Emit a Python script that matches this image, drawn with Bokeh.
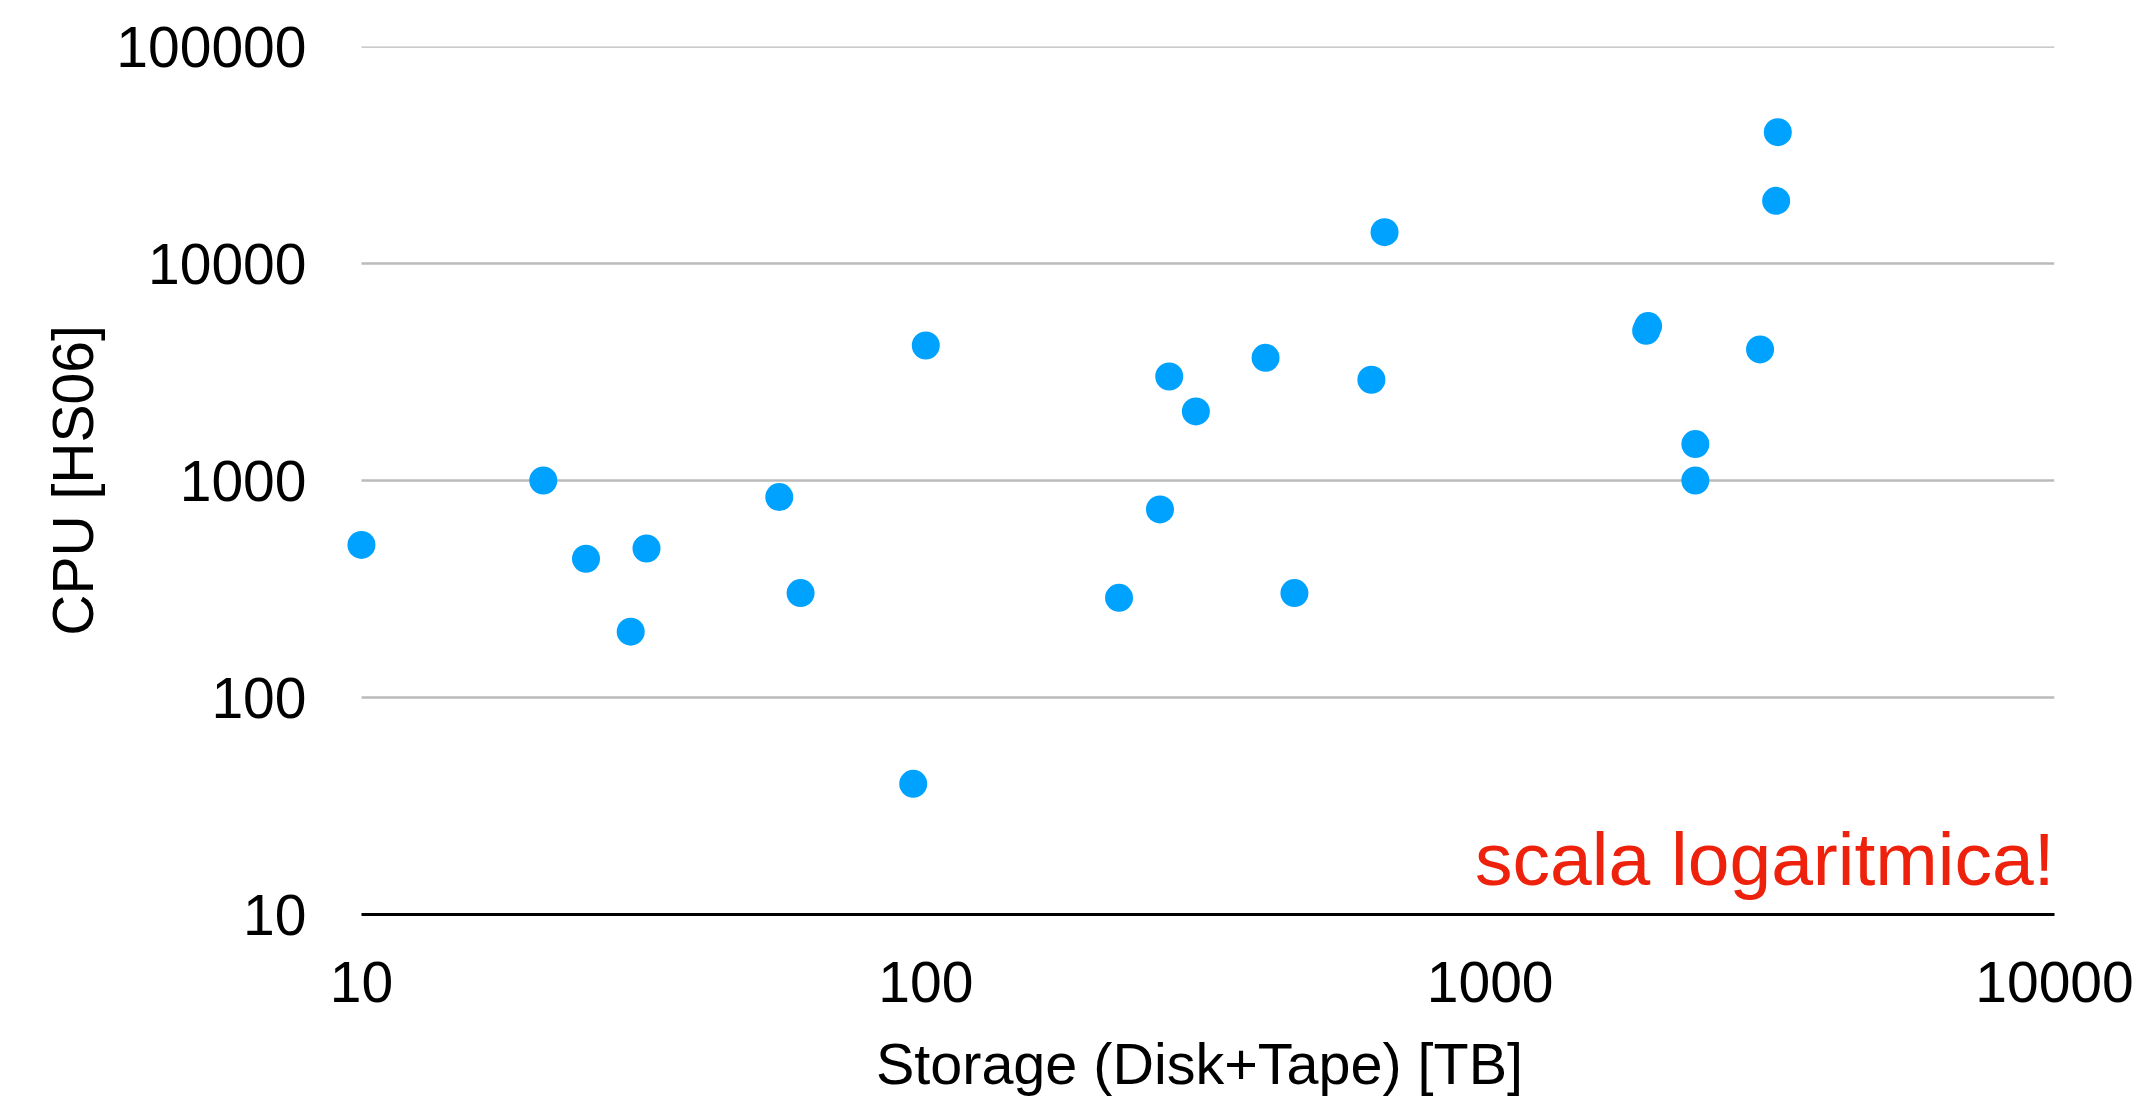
from bokeh.plotting import figure
from bokeh.models import Range1d, FixedTicker, Label, Grid
from bokeh.embed import file_html
from bokeh.resources import INLINE

# ---- data ----
storage_tb = [10, 21, 25, 30, 32, 55, 60, 95, 100,
              220, 260, 270, 301, 400, 450, 616, 650,
              1890, 1905, 2310, 2310, 3008, 3212, 3234]
cpu_hs06 = [505, 1000, 436, 201, 486, 839, 303, 40, 4190,
            288, 736, 3016, 2081, 3677, 303, 2913, 13950,
            4900, 5150, 1472, 1000, 4018, 19450, 40300]

x_ticks = [10, 100, 1000, 10000]
x_tick_labels = ["10", "100", "1000", "10000"]
y_ticks = [10, 100, 1000, 10000, 100000]
y_tick_labels = ["10", "100", "1000", "10000", "100000"]

x_title = "Storage (Disk+Tape) [TB]"
y_title = "CPU [HS06]"
note = "scala logaritmica!"

FONT = "Liberation Sans"
DOT = "#00A2FF"

p = figure(width=2151, height=1098,
           x_axis_type="log", y_axis_type="log",
           x_range=Range1d(x_ticks[0] / 10 ** 0.03, x_ticks[-1]),
           y_range=Range1d(y_ticks[0], y_ticks[-1] * 1.0005),
           output_backend="svg", toolbar_location=None,
           min_border_left=344, min_border_right=97,
           min_border_top=46, min_border_bottom=183)
p.outline_line_color = None
p.background_fill_color = "white"
p.border_fill_color = "white"

xt = FixedTicker(ticks=x_ticks, minor_ticks=[])
yt = FixedTicker(ticks=y_ticks, minor_ticks=[])

xa = p.xaxis[0]
xa.ticker = xt
xa.major_label_overrides = {t: s for t, s in zip(x_ticks, x_tick_labels)}
xa.bounds = (x_ticks[0], x_ticks[-1])
xa.axis_line_color = "black"
xa.axis_line_width = 3
xa.major_tick_line_color = None
xa.minor_tick_line_color = None
xa.major_label_text_font = FONT
xa.major_label_text_font_size = "57px"
xa.major_label_text_color = "black"
xa.major_label_standoff = 41
xa.axis_label = x_title
xa.axis_label_text_font = FONT
xa.axis_label_text_font_size = "57.5px"
xa.axis_label_text_font_style = "normal"
xa.axis_label_text_color = "black"
xa.axis_label_standoff = 27

ya = p.yaxis[0]
ya.ticker = yt
ya.major_label_overrides = {t: s for t, s in zip(y_ticks, y_tick_labels)}
ya.axis_line_color = None
ya.major_tick_line_color = None
ya.minor_tick_line_color = None
ya.major_label_text_font = FONT
ya.major_label_text_font_size = "57px"
ya.major_label_text_color = "black"
ya.major_label_standoff = 32
ya.axis_label = y_title
ya.axis_label_text_font = FONT
ya.axis_label_text_font_size = "57px"
ya.axis_label_text_font_style = "normal"
ya.axis_label_text_color = "black"
ya.axis_label_standoff = 8

p.xgrid.grid_line_color = None
yg = p.ygrid[0]
yg.ticker = yt
yg.grid_line_color = "#BBBBBB"
yg.grid_line_width = 2.5
if "cross_bounds" in Grid.properties():
    yg.cross_bounds = (x_ticks[0], x_ticks[-1])

p.scatter(storage_tb, cpu_hs06, size=28, fill_color=DOT, line_color=None)

p.add_layout(Label(x=x_ticks[-1], y=y_ticks[0], y_offset=56,
                   text=note, text_align="right", text_baseline="alphabetic",
                   text_font=FONT, text_font_size="75px", text_color="#EE220C"))

open("out.html", "w").write(file_html(p, INLINE))
